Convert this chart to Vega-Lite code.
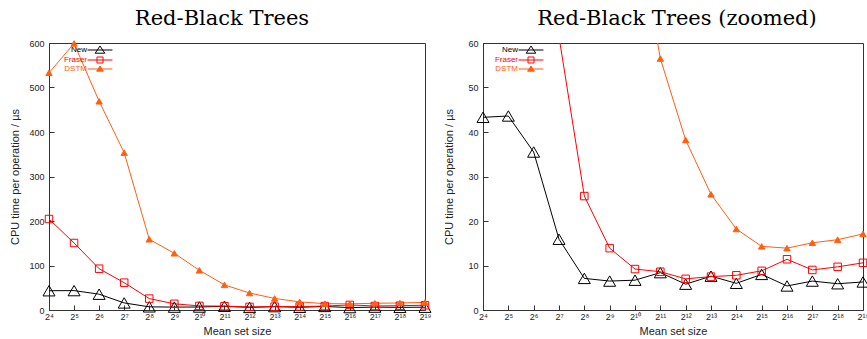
{
  "$schema": "https://vega.github.io/schema/vega-lite/v6.json",
  "padding": {"left": 8, "top": 7, "right": 0, "bottom": 0},
  "background": "white",
  "datasets": {
    "rb": [
      {"n": 4, "impl": "New", "t": 43.3}, {"n": 5, "impl": "New", "t": 43.6}, {"n": 6, "impl": "New", "t": 35.5}, {"n": 7, "impl": "New", "t": 15.9},
      {"n": 8, "impl": "New", "t": 7.1}, {"n": 9, "impl": "New", "t": 6.5}, {"n": 10, "impl": "New", "t": 6.7}, {"n": 11, "impl": "New", "t": 8.4},
      {"n": 12, "impl": "New", "t": 5.8}, {"n": 13, "impl": "New", "t": 7.6}, {"n": 14, "impl": "New", "t": 6.0}, {"n": 15, "impl": "New", "t": 8.0},
      {"n": 16, "impl": "New", "t": 5.4}, {"n": 17, "impl": "New", "t": 6.5}, {"n": 18, "impl": "New", "t": 5.9}, {"n": 19, "impl": "New", "t": 6.3},
      {"n": 4, "impl": "Fraser", "t": 204.5}, {"n": 5, "impl": "Fraser", "t": 150.6}, {"n": 6, "impl": "Fraser", "t": 92.8}, {"n": 7, "impl": "Fraser", "t": 61.4},
      {"n": 8, "impl": "Fraser", "t": 25.6}, {"n": 9, "impl": "Fraser", "t": 13.9}, {"n": 10, "impl": "Fraser", "t": 9.2}, {"n": 11, "impl": "Fraser", "t": 8.6},
      {"n": 12, "impl": "Fraser", "t": 7.0}, {"n": 13, "impl": "Fraser", "t": 7.5}, {"n": 14, "impl": "Fraser", "t": 7.8}, {"n": 15, "impl": "Fraser", "t": 8.8},
      {"n": 16, "impl": "Fraser", "t": 11.4}, {"n": 17, "impl": "Fraser", "t": 9.0}, {"n": 18, "impl": "Fraser", "t": 9.7}, {"n": 19, "impl": "Fraser", "t": 10.6},
      {"n": 4, "impl": "DSTM", "t": 533}, {"n": 5, "impl": "DSTM", "t": 599}, {"n": 6, "impl": "DSTM", "t": 469}, {"n": 7, "impl": "DSTM", "t": 353.5},
      {"n": 8, "impl": "DSTM", "t": 158.9}, {"n": 9, "impl": "DSTM", "t": 127.4}, {"n": 10, "impl": "DSTM", "t": 89.2}, {"n": 11, "impl": "DSTM", "t": 56.5},
      {"n": 12, "impl": "DSTM", "t": 38.2}, {"n": 13, "impl": "DSTM", "t": 26.0}, {"n": 14, "impl": "DSTM", "t": 18.2}, {"n": 15, "impl": "DSTM", "t": 14.3},
      {"n": 16, "impl": "DSTM", "t": 13.9}, {"n": 17, "impl": "DSTM", "t": 15.1}, {"n": 18, "impl": "DSTM", "t": 15.8}, {"n": 19, "impl": "DSTM", "t": 17.1}
    ]
  },
  "config": {
    "view": {"stroke": "#333", "strokeWidth": 1},
    "axis": {
      "domain": false, "grid": false, "tickSize": -5, "tickColor": "#333", "tickWidth": 1,
      "labelFont": "Liberation Sans", "labelFontSize": 9, "labelColor": "#222", "labelOverlap": false,
      "titleFont": "Liberation Sans", "titleFontSize": 11, "titleFontWeight": "normal", "titleColor": "#222"
    },
    "legend": {
      "orient": "none", "title": null, "padding": 0,
      "symbolSize": 36, "symbolStrokeWidth": 1, "labelFont": "Liberation Sans", "labelFontSize": 8,
      "labelAlign": "right", "labelOffset": -17, "rowPadding": -2
    },
    "title": {"font": "DejaVu Serif", "fontSize": 21, "fontWeight": "normal", "color": "#000", "anchor": "middle", "baseline": "alphabetic", "offset": 10, "frame": "group"}
  },
  "resolve": {"scale": {"stroke": "independent"}},
  "spacing": 8,
  "hconcat": [
    {
      "width": 376, "height": 267,
      "title": {"text": "Red-Black Trees", "dx": -15},
      "data": {"name": "rb"},
      "encoding": {
        "x": {"field": "n", "type": "quantitative", "scale": {"domain": [4, 19], "nice": false, "zero": false},
          "axis": {"title": "Mean set size", "values": [4,5,6,7,8,9,10,11,12,13,14,15,16,17,18,19], "labelExpr": "'2' + (datum.value >= 10 ? '¹' : '') + ['⁰','¹','²','³','⁴','⁵','⁶','⁷','⁸','⁹'][datum.value % 10]", "labelFlush": false, "labelOverlap": false, "labelPadding": 7, "titlePadding": 4}},
        "y": {"field": "t", "type": "quantitative", "scale": {"domain": [0, 600], "nice": false},
          "axis": {"title": "CPU time per operation / µs", "values": [0,100,200,300,400,500,600], "labelPadding": 10, "minExtent": 20, "maxExtent": 20, "titlePadding": 9}}
      },
      "layer": [
        {
          "mark": {"type": "line", "strokeWidth": 1},
          "encoding": {
            "stroke": {"field": "impl", "type": "nominal", "scale": {"domain": ["New", "Fraser", "DSTM"], "range": ["#000000", "#ff0000", "#ff6010"]},
              "legend": {"legendX": 47, "legendY": 3,
                "encode": {
                  "symbols": {"update": {
                    "shape": {"signal": "datum.value === 'New' ? 'M-4.15,0H4.15M-1.6,1.07L0,-1.33L1.6,1.07Z' : datum.value === 'Fraser' ? 'M-4.15,0H4.15M-1,-1H1V1H-1Z' : 'M-4.15,0H4.15M-1.13,0.73L0,-1L1.13,0.73Z'"},
                    "fill": {"signal": "datum.value === 'DSTM' ? '#ff6010' : 'transparent'"},
                    "strokeWidth": {"value": 1}
                  }},
                  "labels": {"update": {"fill": {"signal": "datum.value === 'New' ? '#000000' : datum.value === 'Fraser' ? '#ff0000' : '#ff6010'"}}}
                }}}
          }
        },
        {
          "transform": [{"filter": "datum.impl === 'New'"}],
          "mark": {"type": "point", "shape": "triangle-up", "size": 144, "stroke": "#000000", "fill": "transparent", "strokeWidth": 1, "opacity": 1}
        },
        {
          "transform": [{"filter": "datum.impl === 'Fraser'"}],
          "mark": {"type": "point", "shape": "square", "size": 56, "stroke": "#ff0000", "fill": "transparent", "strokeWidth": 1, "opacity": 1}
        },
        {
          "transform": [{"filter": "datum.impl === 'DSTM'"}],
          "mark": {"type": "point", "shape": "triangle-up", "size": 40, "stroke": "#ff6010", "fill": "#ff6010", "strokeWidth": 1, "opacity": 1}
        }
      ]
    },
    {
      "width": 380, "height": 267,
      "title": {"text": "Red-Black Trees (zoomed)", "dx": 4},
      "data": {"name": "rb"},
      "encoding": {
        "x": {"field": "n", "type": "quantitative", "scale": {"domain": [4, 19], "nice": false, "zero": false},
          "axis": {"title": "Mean set size", "values": [4,5,6,7,8,9,10,11,12,13,14,15,16,17,18,19], "labelExpr": "'2' + (datum.value >= 10 ? '¹' : '') + ['⁰','¹','²','³','⁴','⁵','⁶','⁷','⁸','⁹'][datum.value % 10]", "labelFlush": false, "labelOverlap": false, "labelPadding": 7, "titlePadding": 4}},
        "y": {"field": "t", "type": "quantitative", "scale": {"domain": [0, 60], "nice": false},
          "axis": {"title": "CPU time per operation / µs", "values": [0,10,20,30,40,50,60], "labelPadding": 10, "minExtent": 20, "maxExtent": 20, "titlePadding": 9}}
      },
      "layer": [
        {
          "mark": {"type": "line", "strokeWidth": 1, "clip": true},
          "encoding": {
            "stroke": {"field": "impl", "type": "nominal", "scale": {"domain": ["New", "Fraser", "DSTM"], "range": ["#000000", "#ff0000", "#ff6010"]},
              "legend": {"legendX": 44, "legendY": 3,
                "encode": {
                  "symbols": {"update": {
                    "shape": {"signal": "datum.value === 'New' ? 'M-4.15,0H4.15M-1.6,1.07L0,-1.33L1.6,1.07Z' : datum.value === 'Fraser' ? 'M-4.15,0H4.15M-1,-1H1V1H-1Z' : 'M-4.15,0H4.15M-1.13,0.73L0,-1L1.13,0.73Z'"},
                    "fill": {"signal": "datum.value === 'DSTM' ? '#ff6010' : 'transparent'"},
                    "strokeWidth": {"value": 1}
                  }},
                  "labels": {"update": {"fill": {"signal": "datum.value === 'New' ? '#000000' : datum.value === 'Fraser' ? '#ff0000' : '#ff6010'"}}}
                }}}
          }
        },
        {
          "transform": [{"filter": "datum.impl === 'New' && datum.t <= 60"}],
          "mark": {"type": "point", "shape": "triangle-up", "size": 144, "stroke": "#000000", "fill": "transparent", "strokeWidth": 1, "opacity": 1}
        },
        {
          "transform": [{"filter": "datum.impl === 'Fraser' && datum.t <= 60"}],
          "mark": {"type": "point", "shape": "square", "size": 56, "stroke": "#ff0000", "fill": "transparent", "strokeWidth": 1, "opacity": 1}
        },
        {
          "transform": [{"filter": "datum.impl === 'DSTM' && datum.t <= 60"}],
          "mark": {"type": "point", "shape": "triangle-up", "size": 40, "stroke": "#ff6010", "fill": "#ff6010", "strokeWidth": 1, "opacity": 1}
        }
      ]
    }
  ]
}
